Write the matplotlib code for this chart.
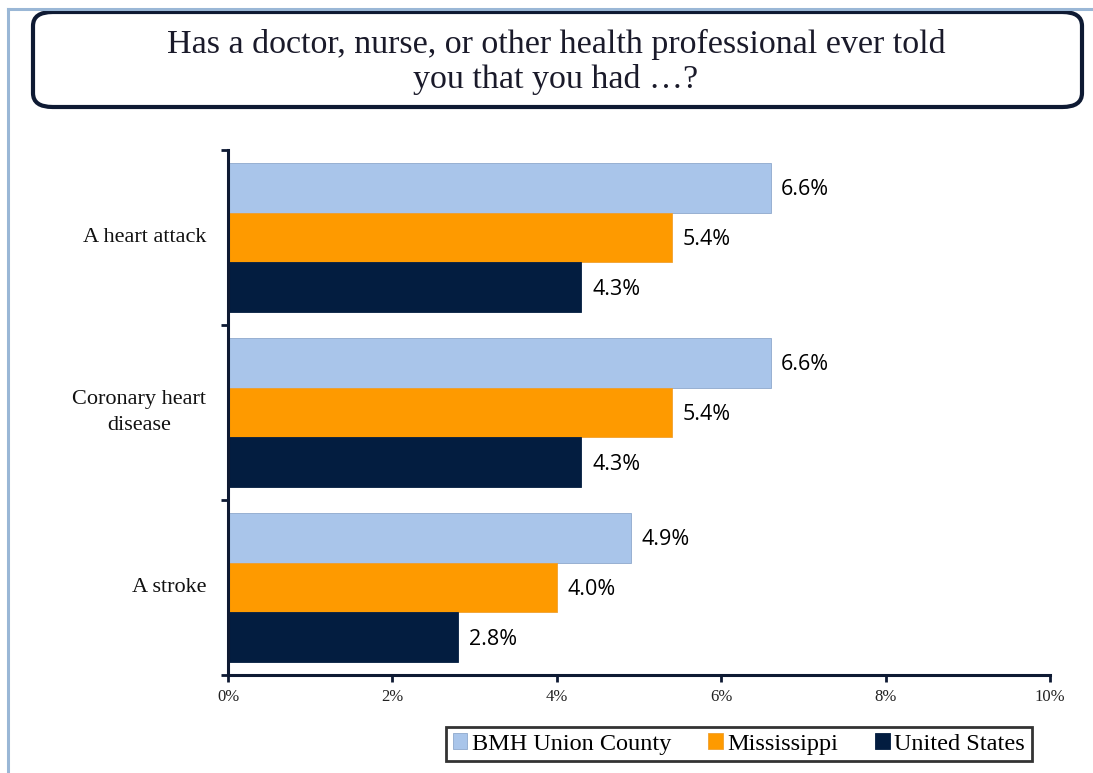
import matplotlib
matplotlib.use("Agg")
import matplotlib.pyplot as plt
import matplotlib.patches as patches
import matplotlib.transforms as mtransforms
from matplotlib.lines import Line2D
import numpy as np

# survey results, percent
categories = ["A heart attack", "Coronary heart\ndisease", "A stroke"]
series_names = ["BMH Union County", "Mississippi", "United States"]
union_county = [6.6, 6.6, 4.9]
mississippi = [5.4, 5.4, 4.0]
united_states = [4.3, 4.3, 2.8]
xticks = [0, 2, 4, 6, 8, 10]

colors = ["#a9c5ea", "#fe9a00", "#031d40"]
edges = ["#8ea8cc", "#f0a030", "#031d40"]
navy = "#0e1a33"
serif = ["Liberation Serif", "DejaVu Serif"]

fig = plt.figure(figsize=(10.93, 7.73), dpi=100)

# page frame lines (top and left)
fig.add_artist(Line2D([8 / 1093, 1], [1 - 9 / 773, 1 - 9 / 773], color="#9ab7d6", lw=2.2))
fig.add_artist(Line2D([8 / 1093, 8 / 1093], [0, 1 - 9 / 773], color="#9ab7d6", lw=2.2))

# rounded title box
box = patches.FancyBboxPatch((33 / 1093, 1 - 107 / 773), 1049 / 1093, 95 / 773,
                             boxstyle="round,pad=0,rounding_size=0.018",
                             transform=fig.transFigure, facecolor="white",
                             edgecolor=navy, lw=3)
fig.add_artist(box)
fig.text(556 / 1093, 1 - 62 / 773,
         "Has a doctor, nurse, or other health professional ever told\nyou that you had \u2026?",
         ha="center", va="center", fontsize=24.5, family=serif, color="#1a1a2a",
         linespacing=1.15)

ax = fig.add_axes([228 / 1093, 1 - 675 / 773, 822 / 1093, 525 / 773])

n = len(categories)
pos = np.arange(n)
bar_h = 0.285
all_series = [union_county, mississippi, united_states]
for i, vals in enumerate(all_series):
    y = pos + (i - 1) * bar_h
    ax.barh(y, vals, height=bar_h, color=colors[i], edgecolor=edges[i], lw=0.6,
            label=series_names[i])
    for yy, v in zip(y, vals):
        ax.text(v + 0.13, yy + 0.012, f"{v:.1f}%", va="center", ha="left",
                fontsize=15.5, family=["Open Sans", "DejaVu Sans"], color="black")

ax.set_ylim(n - 0.5, -0.5)
ax.set_xlim(0, 10)
ax.set_yticks(np.arange(n + 1) - 0.5)
ax.set_yticklabels([])
ax.tick_params(axis="y", length=5, width=2, color=navy, direction="out")

# category labels, right aligned, second line centred under the first
lab_tr = mtransforms.blended_transform_factory(ax.transAxes, ax.transData)
for p, lab in zip(pos, categories):
    ax.text(-22 / 822, p, lab, ha="right", va="center", multialignment="center",
            fontsize=16, family=serif, color="#111111", linespacing=1.45,
            transform=lab_tr)

ax.set_xticks(xticks)
ax.set_xticklabels([f"{t}%" for t in xticks], fontsize=12, family=serif, color="#222222")
ax.tick_params(axis="x", length=5, width=2, color=navy, direction="out", pad=5)

for side in ["top", "right"]:
    ax.spines[side].set_visible(False)
for side in ["left", "bottom"]:
    ax.spines[side].set_linewidth(2.2)
    ax.spines[side].set_color(navy)

# legend in a framed box below the axis
handles = [patches.Patch(facecolor=c, edgecolor=e, lw=0.6) for c, e in zip(colors, edges)]
leg = fig.legend(handles, series_names, loc="center",
                 bbox_to_anchor=(739 / 1093, 1 - 744 / 773), ncol=3,
                 prop={"family": serif, "size": 17.5}, frameon=True, fancybox=False,
                 handlelength=0.6, handleheight=0.6, handletextpad=0.2,
                 columnspacing=1.5, borderpad=0.28, borderaxespad=0)
leg.get_frame().set_edgecolor("black")
leg.get_frame().set_linewidth(2)

fig.savefig("out.png", dpi=100)
